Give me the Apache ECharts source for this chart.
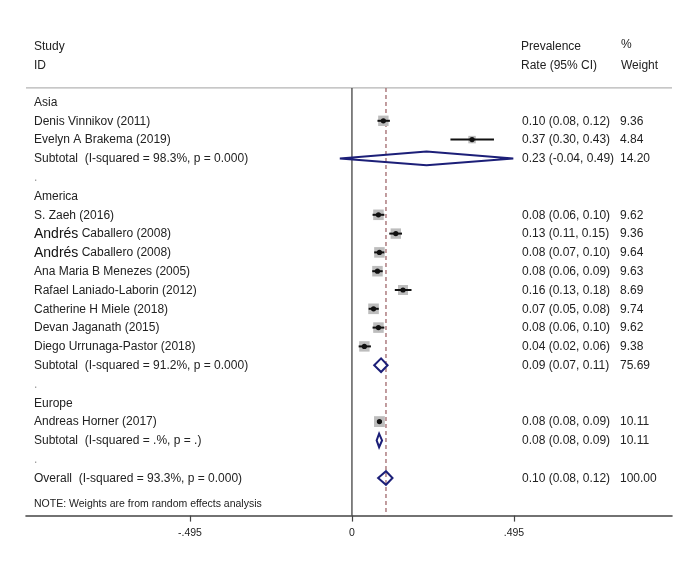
<!DOCTYPE html>
<html>
<head>
<meta charset="utf-8">
<script src="https://cdn.jsdelivr.net/npm/echarts@6/dist/echarts.min.js"></script>
<style>
html,body{margin:0;padding:0;background:#fff;}
#chart{width:693px;height:569px;}
</style>
</head>
<body>
<div id="chart"></div>
<script>
// ---- data ----
const headerLeft = ["Study", "ID"];
const headerMid = ["Prevalence", "Rate (95% CI)"];
const headerRight = ["%", "Weight"];
const rowLabels = [
  "Asia",
  "Denis Vinnikov (2011)",
  "Evelyn A Brakema (2019)",
  "Subtotal  (I-squared = 98.3%, p = 0.000)",
  ".",
  "America",
  "S. Zaeh (2016)",
  "Andrés Caballero (2008)",
  "Andrés Caballero (2008)",
  "Ana Maria B Menezes (2005)",
  "Rafael Laniado-Laborin (2012)",
  "Catherine H Miele (2018)",
  "Devan Jaganath (2015)",
  "Diego Urrunaga-Pastor (2018)",
  "Subtotal  (I-squared = 91.2%, p = 0.000)",
  ".",
  "Europe",
  "Andreas Horner (2017)",
  "Subtotal  (I-squared = .%, p = .)",
  ".",
  "Overall  (I-squared = 93.3%, p = 0.000)"
];
const rowKinds = ["group","study","study","subtotal","blank",
  "group","study","study","study","study","study","study","study","study","subtotal","blank",
  "group","study","subtotal","blank","overall"];
// values (they round to the printed figures)
const estimates = [null,0.096,0.367,0.228,null,null,0.081,0.134,0.084,0.078,0.156,0.066,0.081,0.038,0.089,null,null,0.084,0.083,null,0.104];
const lowers    = [null,0.078,0.301,-0.037,null,null,0.063,0.114,0.068,0.062,0.131,0.051,0.063,0.0205,0.068,null,null,0.0765,0.0755,null,0.080];
const uppers    = [null,0.116,0.434,0.493,null,null,0.099,0.153,0.099,0.094,0.182,0.082,0.099,0.058,0.109,null,null,0.091,0.092,null,0.124];
const weights   = [null,9.36,4.84,14.20,null,null,9.62,9.36,9.64,9.63,8.69,9.74,9.62,9.38,75.69,null,null,10.11,10.11,null,100.00];
const overallEstimate = 0.104;
const noteText = "NOTE: Weights are from random effects analysis";
const tickValues = [-0.495, 0, 0.495];

// ---- layout constants ----
const FONT = '"Liberation Sans", Arial, sans-serif';
const TXT = '#222';
const xLeftText = 34, xMidText = 522, xRightText = 621;
const headerLineRow = -0.75, noteRow = 21.4, axisRow = 22;

const chart = echarts.init(document.getElementById('chart'), null, {renderer: 'canvas'});

function fmtTick(v) {
  if (v === 0) return '0';
  return (v < 0 ? '-' : '') + Math.abs(v).toFixed(3).replace(/^0/, '');
}

const textData = rowLabels.map((l, i) => [i]);
const markData = [];
estimates.forEach((e, i) => {
  if (e !== null) markData.push([e, i, lowers[i], uppers[i], weights[i], rowKinds[i] === 'study' ? 0 : 1]);
});

const option = {
  animation: false,
  backgroundColor: '#ffffff',
  grid: {left: 26, right: 21, top: 26.8, bottom: 53.4},
  xAxis: {
    type: 'value', min: -0.996, max: 0.978,
    splitLine: {show: false},
    axisLine: {onZero: false, lineStyle: {color: '#444', width: 1.6}},
    axisTick: {customValues: tickValues, length: 6, lineStyle: {color: '#444', width: 1.2}},
    axisLabel: {customValues: tickValues, formatter: fmtTick, fontSize: 10.5, margin: 12, color: TXT, fontFamily: FONT}
  },
  yAxis: {type: 'value', inverse: true, min: -4, max: axisRow, show: false},
  series: [
    {
      type: 'custom', silent: true, z: 1,
      data: [[0]],
      renderItem: function (params, api) {
        const top0 = api.coord([0, headerLineRow]);
        const bot0 = api.coord([0, axisRow]);
        const topO = api.coord([overallEstimate, headerLineRow]);
        const botO = api.coord([overallEstimate, axisRow]);
        const hl = api.coord([-0.996, headerLineRow]);
        const hr = api.coord([0.978, headerLineRow]);
        return {type: 'group', children: [
          {type: 'line', shape: {x1: hl[0], y1: hl[1], x2: hr[0], y2: hr[1]}, style: {stroke: '#b4b4b4', lineWidth: 1.2}},
          {type: 'line', shape: {x1: top0[0], y1: top0[1], x2: bot0[0], y2: bot0[1]}, style: {stroke: '#333', lineWidth: 1.2}},
          {type: 'line', shape: {x1: topO[0], y1: topO[1], x2: botO[0], y2: botO[1]}, style: {stroke: '#a0686c', lineWidth: 1.3, lineDash: [4, 3]}}
        ]};
      }
    },
    {
      type: 'custom', silent: true, z: 3,
      data: markData,
      renderItem: function (params, api) {
        const est = api.value(0), row = api.value(1), lo = api.value(2), hi = api.value(3), w = api.value(4), kind = api.value(5);
        const c = api.coord([est, row]);
        const l = api.coord([lo, row]);
        const h = api.coord([hi, row]);
        if (kind === 0) {
          const s = 3.4 * Math.sqrt(w);
          return {type: 'group', children: [
            {type: 'rect', shape: {x: c[0] - s / 2, y: c[1] - s / 2, width: s, height: s}, style: {fill: '#bdbdbd'}},
            {type: 'line', shape: {x1: l[0], y1: c[1], x2: h[0], y2: c[1]}, style: {stroke: '#111', lineWidth: 2}},
            {type: 'circle', shape: {cx: c[0], cy: c[1], r: 2.6}, style: {fill: '#111'}}
          ]};
        }
        const hh = 6.8;
        return {type: 'polygon', shape: {points: [[l[0], c[1]], [c[0], c[1] - hh], [h[0], c[1]], [c[0], c[1] + hh]]},
          style: {fill: 'rgba(255,255,255,0)', stroke: '#1c1f78', lineWidth: 2}};
      }
    },
    {
      type: 'custom', silent: true, z: 5,
      data: textData,
      renderItem: function (params, api) {
        const i = api.value(0);
        const y = api.coord([0, i])[1] + 0.5;
        const children = [];
        const lab = rowLabels[i];
        if (lab.indexOf('Andrés ') === 0) {
          children.push({type: 'text', x: xLeftText, y: y, style: {
            text: '{a|Andrés} {b|' + lab.slice(7) + '}', verticalAlign: 'middle', align: 'left',
            rich: {a: {fontSize: 14, fontFamily: FONT, fill: '#111'}, b: {fontSize: 12, fontFamily: FONT, fill: TXT}}}});
        } else {
          children.push({type: 'text', x: xLeftText, y: y, style: {text: lab, font: '12px ' + FONT, fill: lab === '.' ? '#999' : TXT, verticalAlign: 'middle', align: 'left'}});
        }
        if (estimates[i] !== null) {
          const t = estimates[i].toFixed(2) + ' (' + lowers[i].toFixed(2) + ', ' + uppers[i].toFixed(2) + ')';
          children.push({type: 'text', x: xMidText, y: y, style: {text: t, font: '12px ' + FONT, fill: TXT, verticalAlign: 'middle', align: 'left'}});
          children.push({type: 'text', x: xRightText - 1, y: y, style: {text: weights[i].toFixed(2), font: '12px ' + FONT, fill: TXT, verticalAlign: 'middle', align: 'left'}});
        }
        return {type: 'group', children: children};
      }
    },
    {
      type: 'custom', silent: true, z: 5,
      data: [[0]],
      renderItem: function (params, api) {
        const children = [];
        [-3, -2].forEach((r, k) => {
          const y = api.coord([0, r])[1] + 1;
          children.push({type: 'text', x: xLeftText, y: y, style: {text: headerLeft[k], font: '12px ' + FONT, fill: TXT, verticalAlign: 'middle'}});
          children.push({type: 'text', x: xMidText - 1, y: y, style: {text: headerMid[k], font: '12px ' + FONT, fill: TXT, verticalAlign: 'middle'}});
          children.push({type: 'text', x: xRightText, y: y - (k === 0 ? 2 : 0), style: {text: headerRight[k], font: '12px ' + FONT, fill: TXT, verticalAlign: 'middle'}});
        });
        const yn = api.coord([0, noteRow])[1];
        children.push({type: 'text', x: xLeftText, y: yn, style: {text: noteText, font: '10.5px ' + FONT, fill: TXT, verticalAlign: 'middle'}});
        return {type: 'group', children: children};
      }
    }
  ]
};
chart.setOption(option);
</script>
</body>
</html>
